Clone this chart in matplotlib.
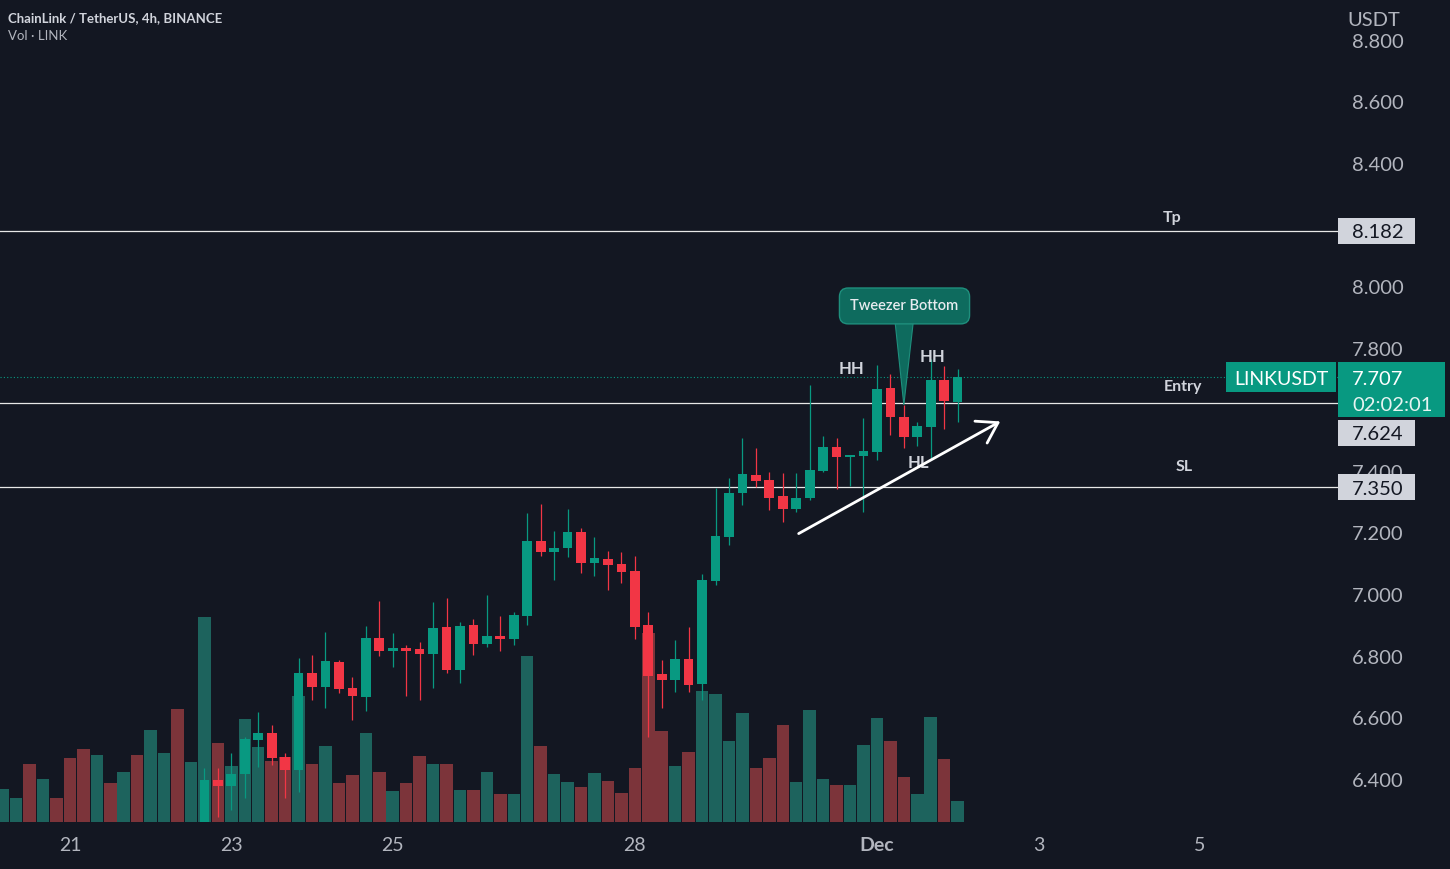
import matplotlib
matplotlib.use('Agg')
import matplotlib.pyplot as plt
import matplotlib.transforms as mtransforms
from matplotlib.patches import Rectangle, Polygon
import numpy as np
import pandas as pd

plt.rcParams['font.family'] = ['Lato', 'DejaVu Sans']

# 4h bars, first visible bar 2022-11-20 04:00
bar_start = '2022-11-20 04:00'
n_bars = 72
origin = pd.Timestamp('2022-11-21 00:00')

# volume (thousand LINK), one value per bar
volume = [330, 240, 583, 430, 243, 640, 733, 670, 390, 500, 673, 920, 690, 1133, 600,
          2050, 790, 560, 1030, 750, 610, 653, 1260, 583, 760, 393, 473, 890, 500, 310,
          393, 663, 583, 583, 323, 323, 500, 280, 280, 1660, 763, 483, 400, 350, 493,
          410, 293, 543, 1890, 913, 563, 700, 1313, 1283, 810, 1093, 543, 643, 970, 403,
          1123, 433, 373, 373, 773, 1043, 813, 453, 283, 1053, 633, 213]
# side of the early volume bars (their candles sit below the visible range)
early_side = ['u', 'u', 'd', 'u', 'd', 'd', 'd', 'u', 'd', 'u', 'd', 'u', 'u', 'd', 'u']

# candles from 2022-11-22 16:00 to 2022-12-02 00:00
candle_start = '2022-11-22 16:00'
opens = [6.22, 6.398, 6.381, 6.419, 6.529, 6.552, 6.473, 6.432, 6.748, 6.701,
         6.783, 6.699, 6.670, 6.860, 6.819, 6.828, 6.825, 6.808, 6.896, 6.756,
         6.903, 6.841, 6.867, 6.857, 6.932, 7.176, 7.140, 7.154, 7.206, 7.105,
         7.117, 7.101, 7.078, 6.903, 6.742, 6.724, 6.792, 6.710, 7.047, 7.189,
         7.330, 7.390, 7.373, 7.322, 7.279, 7.314, 7.404, 7.480, 7.449, 7.452,
         7.465, 7.673, 7.579, 7.512, 7.546, 7.698, 7.628]
highs = [6.439, 6.437, 6.486, 6.539, 6.619, 6.578, 6.486, 6.794, 6.805, 6.879,
         6.789, 6.735, 6.900, 6.981, 6.876, 6.838, 6.848, 6.978, 6.991, 6.913,
         6.921, 7.000, 6.932, 6.946, 7.265, 7.295, 7.209, 7.278, 7.219, 7.187,
         7.144, 7.139, 7.128, 6.946, 6.789, 6.854, 6.895, 7.068, 7.346, 7.380,
         7.511, 7.476, 7.400, 7.397, 7.397, 7.682, 7.516, 7.509, 7.455, 7.575,
         7.747, 7.717, 7.617, 7.563, 7.766, 7.745, 7.733]
lows = [6.20, 6.280, 6.302, 6.341, 6.441, 6.448, 6.340, 6.361, 6.659, 6.632,
        6.681, 6.594, 6.624, 6.802, 6.765, 6.672, 6.659, 6.697, 6.746, 6.713,
        6.805, 6.832, 6.819, 6.838, 6.903, 7.128, 7.049, 7.124, 7.072, 7.062,
        7.016, 7.038, 6.857, 6.540, 6.632, 6.686, 6.686, 6.659, 7.032, 7.162,
        7.292, 7.352, 7.276, 7.238, 7.270, 7.308, 7.399, 7.343, 7.354, 7.270,
        7.438, 7.519, 7.476, 7.485, 7.445, 7.538, 7.563]
closes = [6.399, 6.381, 6.419, 6.532, 6.551, 6.470, 6.432, 6.748, 6.702, 6.787,
          6.695, 6.672, 6.860, 6.819, 6.828, 6.818, 6.808, 6.892, 6.756, 6.899,
          6.842, 6.867, 6.857, 6.935, 7.176, 7.140, 7.152, 7.206, 7.105, 7.120,
          7.097, 7.076, 6.896, 6.738, 6.724, 6.792, 6.708, 7.049, 7.192, 7.332,
          7.393, 7.371, 7.316, 7.279, 7.314, 7.406, 7.480, 7.449, 7.452, 7.468,
          7.669, 7.577, 7.512, 7.550, 7.698, 7.631, 7.707]

levels = [8.182, 7.624, 7.350]
level_names = ['Tp', 'Entry', 'SL']
last_price = 7.707
countdown = '02:02:01'
symbol = 'LINKUSDT'

price_ticks = [6.4, 6.6, 6.8, 7.0, 7.2, 7.4, 7.6, 7.8, 8.0, 8.2, 8.4, 8.6, 8.8]
hidden_ticks = [7.6, 8.2]  # covered by the price tags
tick_dates = ['2022-11-21', '2022-11-23', '2022-11-25', '2022-11-28',
              '2022-12-01', '2022-12-03', '2022-12-05']
tick_labels = ['21', '23', '25', '28', 'Dec', '3', '5']

# drawings (bar index, price)
trend_arrow = [(54.0, 7.195), (69.35, 7.568)]
hh_marks = [(58.1, 7.733, 'HH'), (64.1, 7.772, 'HH')]
hl_marks = [(63.05, 7.428, 'HL')]
callout_text = 'Tweezer Bottom'
callout_at = (62.05, 7.945)
callout_tip = (62.0, 7.617)
callout_base = (61.35, 62.7, 7.886)

BG = '#131722'
UP = '#089981'
DN = '#f23645'
UP_VOL = '#1d635d'
DN_VOL = '#7c343a'
TXT = '#d1d4dc'
AX_TXT = '#b2b5be'

W, H = 1450, 869
fig = plt.figure(figsize=(W / 100, H / 100), dpi=100, facecolor=BG)
rect = [0, 47 / H, 1338 / W, 822 / H]
ax_vol = fig.add_axes(rect, facecolor=BG)
ax = fig.add_axes(rect, facecolor='none')

step = pd.Timedelta('4h')
times = pd.date_range(bar_start, periods=n_bars, freq='4h')
xs = np.asarray((times - origin) / step)
xlim = (-5.2, 94.28)

# volume
sides = early_side + ['u' if c >= o else 'd' for o, c in zip(opens, closes)]
vcol = [UP_VOL if s == 'u' else DN_VOL for s in sides]
ax_vol.bar(xs, volume, width=0.93, color=vcol, linewidth=0)
ax_vol.set_xlim(*xlim)
ax_vol.set_ylim(0, max(volume) * 4.01)
ax_vol.axis('off')

# candles
c0 = (pd.Timestamp(candle_start) - origin) / step
cx = c0 + np.arange(len(opens))
o = np.array(opens)
c = np.array(closes)
hi = np.array(highs)
lo = np.array(lows)
col = np.where(c >= o, UP, DN)
ax.vlines(cx, lo, hi, colors=col, linewidth=0.9, zorder=3)
body = np.maximum(np.abs(c - o), 0.004)
ax.bar(cx, body, bottom=np.minimum(o, c), width=0.72, color=col, linewidth=0, zorder=4)

ax.set_xlim(*xlim)
ax.set_ylim(6.263, 8.9318)
for s in ax.spines.values():
    s.set_visible(False)

ax.yaxis.tick_right()
ax.set_yticks(price_ticks)
ax.set_yticklabels(['' if p in hidden_ticks else '%.3f' % p for p in price_ticks])
ax.tick_params(axis='y', length=0, pad=10, labelsize=14.5, labelcolor=AX_TXT)
tick_pos = [(pd.Timestamp(d) - origin) / step for d in tick_dates]
ax.set_xticks(tick_pos)
ax.set_xticklabels(tick_labels)
ax.tick_params(axis='x', length=0, pad=10.5, labelsize=14, labelcolor=AX_TXT)
for lab in ax.get_xticklabels():
    if lab.get_text() == 'Dec':
        lab.set_fontweight('bold')

# horizontal levels
for lv in levels:
    ax.axhline(lv, color='#e8e8e8', linewidth=0.9, zorder=2)
ax.axhline(last_price, color=UP, linewidth=0.8, linestyle=(0, (1, 2)), zorder=2)

blend = mtransforms.blended_transform_factory(fig.transFigure, ax.transData)
ppx = (8.9318 - 6.263) / 822.0
name_x = {'Tp': 1172, 'Entry': 1183, 'SL': 1184}
name_dy = {'Tp': 13, 'Entry': 16, 'SL': 20}
for lv, name in zip(levels, level_names):
    ax.text(name_x[name] / W, lv + name_dy[name] * ppx, name, transform=blend,
            ha='center', va='center', color=TXT, fontsize=11.5, fontweight='bold')

# right scale labels
fig.add_artist(Rectangle((1340 / W, 1 - 33 / H), 110 / W, 33 / H, transform=fig.transFigure,
                         facecolor=BG, edgecolor='none', zorder=5))
fig.text(1374 / W, 1 - 20 / H, 'USDT', ha='center', va='center', color=AX_TXT,
         fontsize=14.5, zorder=6)

tdy = 2 * ppx  # visual centring of digits
bh = 13 * ppx
box_shift = {'Entry': -30}  # pushed below the last-price tag
for lv, name in zip(levels, level_names):
    yc = lv + box_shift.get(name, 0) * ppx
    fig.add_artist(Rectangle((1338 / W, yc - bh), 77 / W, 2 * bh, transform=blend,
                             facecolor=TXT, edgecolor='none', zorder=5))
    fig.add_artist(plt.Text(1352 / W, yc - tdy, '%.3f' % lv, transform=blend, ha='left',
                            va='center', color=BG, fontsize=14.5, zorder=6))

fig.add_artist(Rectangle((1338 / W, last_price - 40 * ppx), 107 / W, 55 * ppx, transform=blend,
                         facecolor=UP, edgecolor='none', zorder=7))
fig.add_artist(plt.Text(1352 / W, last_price - tdy, '%.3f' % last_price, transform=blend,
                        ha='left', va='center', color='white', fontsize=14.5, zorder=8))
fig.add_artist(plt.Text(1352 / W, last_price - 26 * ppx - tdy, countdown, transform=blend,
                        ha='left', va='center', color='#e6f4f1', fontsize=14.5, zorder=8))
fig.add_artist(Rectangle((1226 / W, last_price - 15 * ppx), 110 / W, 30 * ppx, transform=blend,
                         facecolor=UP, edgecolor='none', zorder=7))
fig.add_artist(plt.Text(1281 / W, last_price - tdy, symbol, transform=blend, ha='center',
                        va='center', color='white', fontsize=14, zorder=8))

# header
fig.text(8 / W, 1 - 18 / H, 'ChainLink / TetherUS, 4h, BINANCE', ha='left', va='center',
         color=TXT, fontsize=9.5, fontweight='bold')
fig.text(8 / W, 1 - 36 / H, 'Vol · LINK', ha='left', va='center', color=AX_TXT, fontsize=9.5)

# drawings
for x, y, t in hh_marks + hl_marks:
    ax.text(x, y, t, ha='center', va='center', color=TXT, fontsize=12,
            fontweight='bold', zorder=6)

ax.annotate('', xy=trend_arrow[1], xytext=trend_arrow[0],
            arrowprops=dict(arrowstyle='->,head_length=0.7,head_width=0.45', color='white',
                            lw=2.0, mutation_scale=20), zorder=6)

x0, x1, yb = callout_base
ax.add_patch(Polygon([(x0, yb), (x1, yb), callout_tip], closed=True,
                     facecolor='#0e6b5e', edgecolor='#1f8f7d', linewidth=0.8, zorder=7))
ax.text(callout_at[0], callout_at[1] - tdy, callout_text, ha='center', va='center',
        color='#e6ebef', fontsize=10.5, fontweight='semibold', zorder=8,
        bbox=dict(boxstyle='round,pad=0.75,rounding_size=0.6', facecolor='#0e6b5e',
                  edgecolor='#1f8f7d', linewidth=1.0))

fig.savefig('out.png', dpi=100, facecolor=BG)
